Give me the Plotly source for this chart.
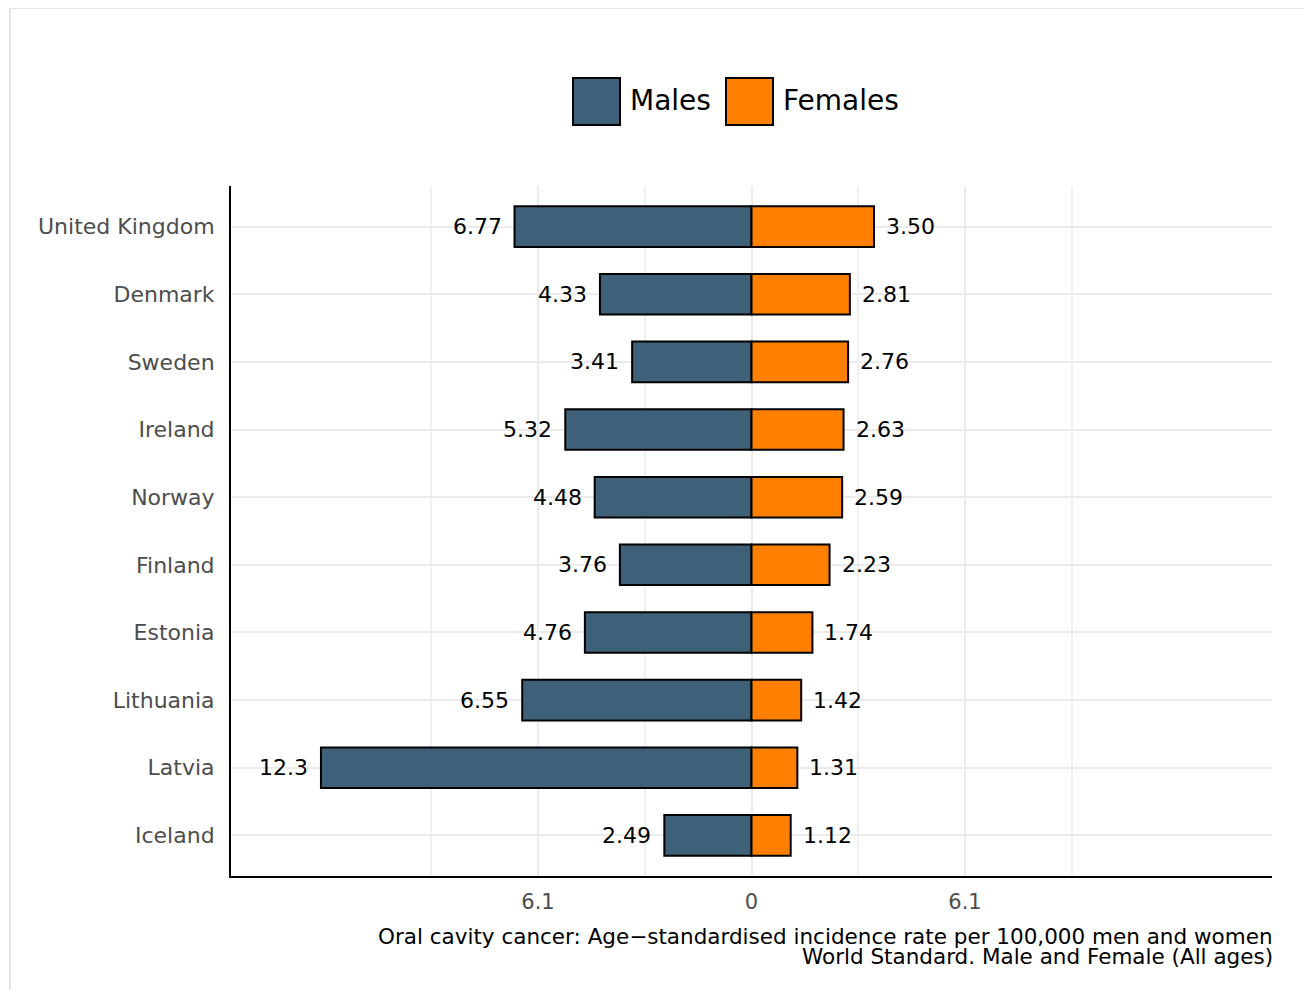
import plotly.graph_objects as go

countries = ["United Kingdom", "Denmark", "Sweden", "Ireland", "Norway",
             "Finland", "Estonia", "Lithuania", "Latvia", "Iceland"]
males = [6.77, 4.33, 3.41, 5.32, 4.48, 3.76, 4.76, 6.55, 12.3, 2.49]
females = [3.50, 2.81, 2.76, 2.63, 2.59, 2.23, 1.74, 1.42, 1.31, 1.12]
tick_vals = [-6.1, 0, 6.1]
tick_text = ["6.1", "0", "6.1"]
minor_vals = [-9.15, -3.05, 3.05, 9.15]
caption1 = "Oral cavity cancer: Age\u2212standardised incidence rate per 100,000 men and women"
caption2 = "World Standard. Male and Female (All ages)"

male_color = "#3e6079"
female_color = "#ff7f00"
FONT = "DejaVu Sans"

OFF = 8  # page body offset
W, H = 1311 - OFF, 990 - OFF
L, R, T, B = 231 - OFF, 1272 - OFF, 186 - OFF, 876 - OFF
pw, ph = R - L, B - T


def px(x):
    return (x - OFF - L) / pw


def py(y):
    return (B - (y - OFF)) / ph


def fmt(v):
    return f"{v:.1f}" if v >= 10 else f"{v:.2f}"


fig = go.Figure()
fig.add_trace(go.Bar(
    y=countries, x=[-m for m in males], orientation="h", name="Males",
    marker=dict(color=male_color, line=dict(color="black", width=2)),
    width=0.6, showlegend=False, hoverinfo="skip"))
fig.add_trace(go.Bar(
    y=countries, x=females, orientation="h", name="Females",
    marker=dict(color=female_color, line=dict(color="black", width=2)),
    width=0.6, showlegend=False, hoverinfo="skip"))

annotations = []
for c, m, f in zip(countries, males, females):
    annotations.append(dict(x=-m, y=c, xref="x", yref="y", text=fmt(m),
                            showarrow=False, xanchor="right", xshift=-11,
                            font=dict(family=FONT, size=22, color="black")))
    annotations.append(dict(x=f, y=c, xref="x", yref="y", text=fmt(f),
                            showarrow=False, xanchor="left", xshift=10,
                            font=dict(family=FONT, size=22, color="black")))

annotations.append(dict(x=1, y=py(936), xref="paper", yref="paper", text=caption1,
                        showarrow=False, xanchor="right", yanchor="middle", xshift=3,
                        font=dict(family=FONT, size=21.5, color="black")))
annotations.append(dict(x=1, y=py(956), xref="paper", yref="paper", text=caption2,
                        showarrow=False, xanchor="right", yanchor="middle", xshift=3,
                        font=dict(family=FONT, size=21.5, color="black")))

# custom legend
annotations.append(dict(x=px(628), y=py(101), xref="paper", yref="paper", text="Males",
                        showarrow=False, xanchor="left", yanchor="middle",
                        font=dict(family=FONT, size=28, color="black")))
annotations.append(dict(x=px(781), y=py(101), xref="paper", yref="paper", text="Females",
                        showarrow=False, xanchor="left", yanchor="middle",
                        font=dict(family=FONT, size=28, color="black")))

shapes = [
    dict(type="rect", xref="paper", yref="paper", x0=px(573), x1=px(620),
         y0=py(125), y1=py(78), fillcolor=male_color, line=dict(color="black", width=2)),
    dict(type="rect", xref="paper", yref="paper", x0=px(726), x1=px(773),
         y0=py(125), y1=py(78), fillcolor=female_color, line=dict(color="black", width=2)),
    dict(type="rect", xref="paper", yref="paper", x0=px(10), x1=px(1330),
         y0=py(1010), y1=py(8), fillcolor="rgba(0,0,0,0)", line=dict(color="#e5e5e5", width=2),
         layer="below"),
]

fig.update_layout(
    width=W, height=H,
    margin=dict(l=L, r=W - R, t=T, b=H - B),
    paper_bgcolor="white", plot_bgcolor="white",
    barmode="overlay", bargap=0.4,
    showlegend=False,
    font=dict(family=FONT),
    annotations=annotations, shapes=shapes,
    xaxis=dict(range=[-14.87, 14.87], tickvals=tick_vals, ticktext=tick_text,
               showgrid=True, gridcolor="#ebebeb", gridwidth=2,
               minor=dict(tickvals=minor_vals, showgrid=True, gridcolor="#f0f0f0", gridwidth=1.5),
               zeroline=False, showline=True, linecolor="black", linewidth=2,
               ticks="", ticklabelstandoff=6,
               tickfont=dict(family=FONT, size=21, color="#4d4d4d"), fixedrange=True),
    yaxis=dict(categoryorder="array", categoryarray=countries[::-1],
               range=[-0.6, 9.6],
               showgrid=True, gridcolor="#ebebeb", gridwidth=2,
               showline=True, linecolor="black", linewidth=2,
               ticks="", ticklabelstandoff=10,
               tickfont=dict(family=FONT, size=22, color="#4d4d4d"), fixedrange=True),
)

fig.write_html("out.html")
